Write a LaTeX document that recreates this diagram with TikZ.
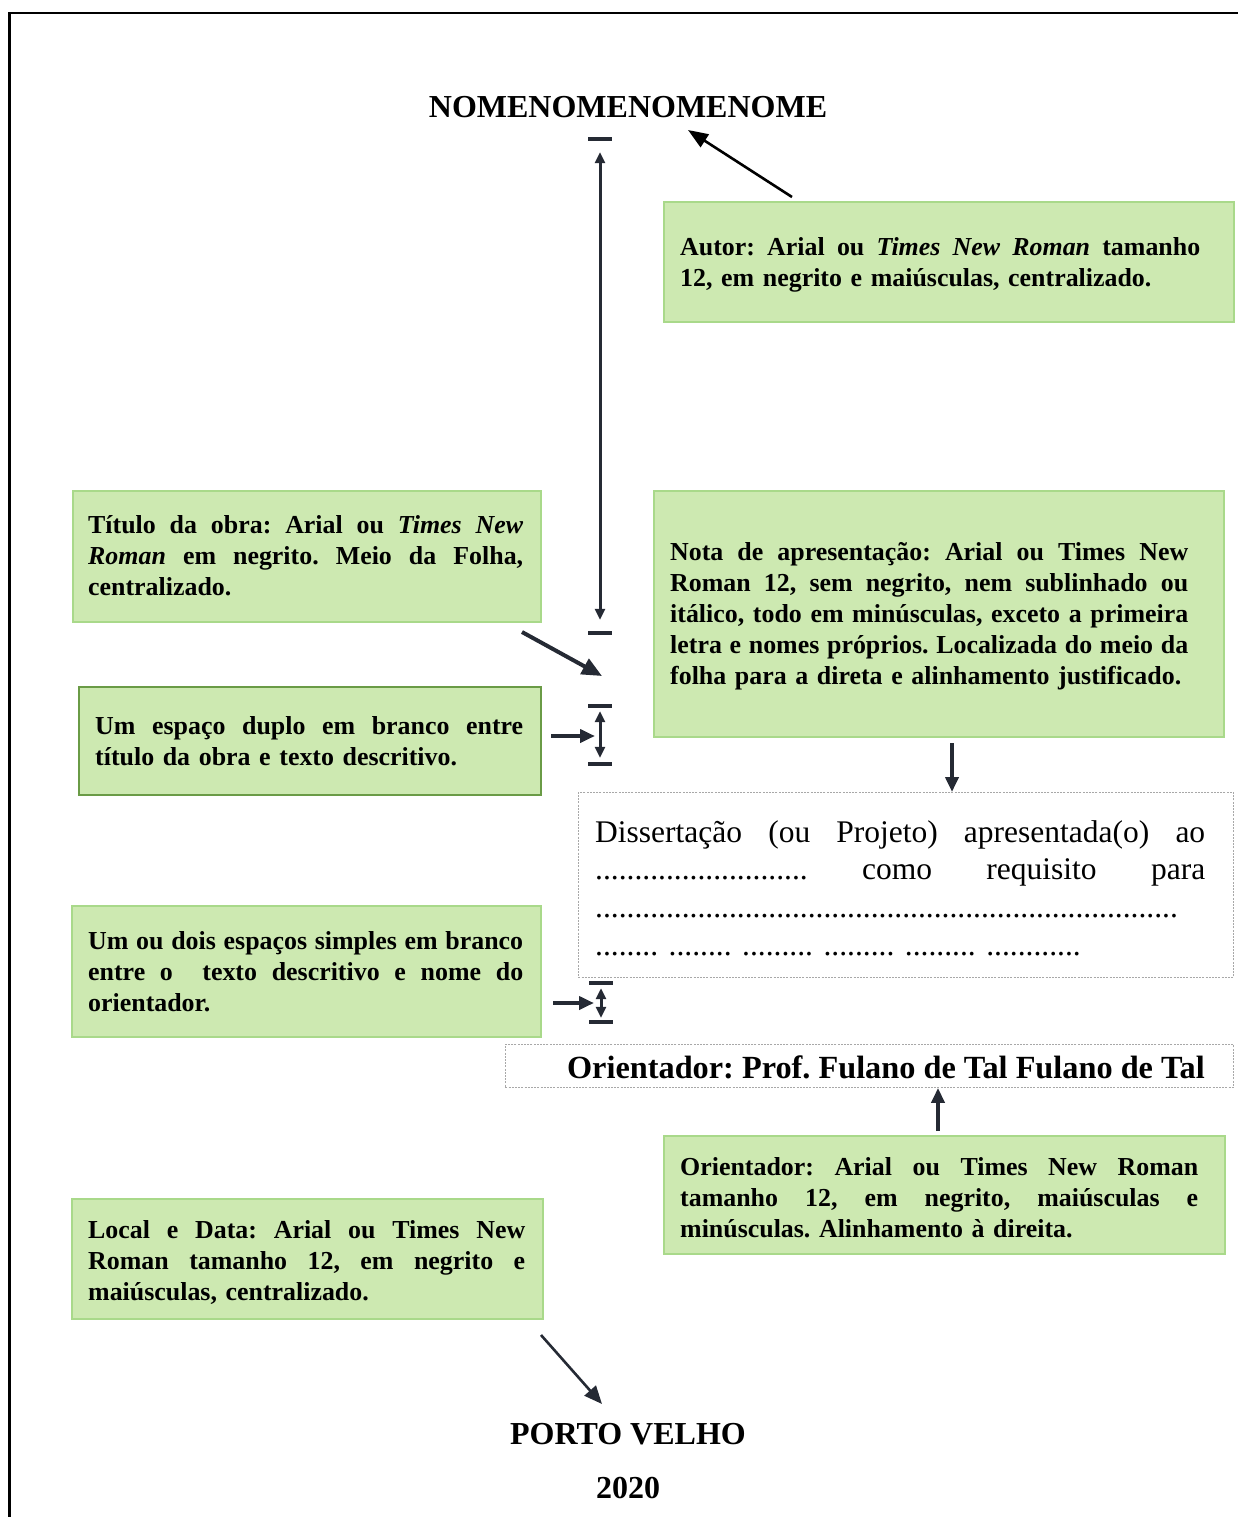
\documentclass[tikz,border=0pt]{standalone}
\usepackage{fontspec}
\setmainfont{Liberation Serif}
\usetikzlibrary{arrows.meta}
\frenchspacing

\definecolor{notefill}{HTML}{CDE9B1}
\definecolor{noteline}{HTML}{A9D98A}
\definecolor{notedark}{HTML}{6A9B46}
\definecolor{ink}{HTML}{252A34}
\definecolor{ghost}{HTML}{A8A8A8}

% one justified line, stretched to the given width
% (the node's ragged setting fixes the word space, so it is freed again here)
\newcommand\jrow[2]{\makebox[#1][s]{\spaceskip=0pt\xspaceskip=0pt\relax#2}}
\newcommand\notefont{\bfseries\fontsize{25.9}{31}\selectfont}
\newcommand\headfont{\bfseries\fontsize{32}{38}\selectfont}

\tikzset{
  note/.style={draw=noteline, fill=notefill, line width=2pt, inner sep=0pt, anchor=north west},
  frameline/.style={draw=ghost, line width=0.9pt, dash pattern=on 2pt off 1.2pt, inner sep=0pt, anchor=north west},
  notetext/.style={anchor=base west, inner sep=0pt, align=left, text width=600pt, font=\notefont},
  bar/.style={fill=ink, minimum width=24pt, minimum height=4pt, inner sep=0pt},
  pointer/.style={ink, line width=4pt, -{Triangle[length=20pt,width=17pt]}},
  shortpointer/.style={ink, line width=4pt, -{Triangle[length=15pt,width=13pt]}},
  span/.style={ink, line width=3pt, {Triangle[length=11pt,width=10pt]}-{Triangle[length=11pt,width=10pt]}},
}

\begin{document}
\begin{tikzpicture}[x=1pt, y=-1pt]
\useasboundingbox (0,0) rectangle (1237,1517);

% page frame
\draw[line width=2.6pt, line cap=rect] (1240,13) -- (9.5,13) -- (9.5,1520);

% headings
\node[anchor=base, inner sep=0pt, font=\headfont] (nome) at (628,118) {NOMENOMENOMENOME};
\node[anchor=base, inner sep=0pt, font=\headfont] (cidade) at (628,1444) {PORTO VELHO};
\node[anchor=base, inner sep=0pt, font=\headfont] (ano) at (628,1498) {2020};

% green notes
\node[note, minimum width=570pt, minimum height=120pt] (autor) at (663,201) {};
\node[notetext] (autortxt) at (680,255)
  {\jrow{520pt}{Autor: Arial ou \textit{Times New Roman} tamanho}\\
   12, em negrito e maiúsculas, centralizado.};

\node[note, minimum width=468pt, minimum height=131pt] (titulo) at (72,490) {};
\node[notetext] (titulotxt) at (88,533)
  {\jrow{435pt}{Título da obra: Arial ou \textit{Times New}}\\
   \jrow{435pt}{\textit{Roman} em negrito. Meio da Folha,}\\
   centralizado.};

\node[note, minimum width=570pt, minimum height=246pt] (nota) at (653,490) {};
\node[notetext] (notatxt) at (670,560)
  {\jrow{518pt}{Nota de apresentação: Arial ou Times New}\\
   \jrow{518pt}{Roman 12, sem negrito, nem sublinhado ou}\\
   \jrow{518pt}{itálico, todo em minúsculas, exceto a primeira}\\
   \jrow{518pt}{letra e nomes próprios. Localizada do meio da}\\
   folha para a direta e alinhamento justificado.};

\node[note, draw=notedark, minimum width=462pt, minimum height=108pt] (espaco) at (78,686) {};
\node[notetext] (espacotxt) at (95,734)
  {\jrow{428pt}{Um espaço duplo em branco entre}\\
   título da obra e texto descritivo.};

\node[note, minimum width=469pt, minimum height=131pt] (simples) at (71,905) {};
\node[notetext] (simplestxt) at (88,949)
  {\jrow{435pt}{Um ou dois espaços simples em branco}\\
   \jrow{435pt}{entre o\ \ texto descritivo e nome do}\\
   orientador.};

\node[note, minimum width=561pt, minimum height=118pt] (orient) at (663,1135) {};
\node[notetext] (orienttxt) at (680,1175)
  {\jrow{518pt}{Orientador: Arial ou Times New Roman}\\
   \jrow{518pt}{tamanho 12, em negrito, maiúsculas e}\\
   minúsculas. Alinhamento à direita.};

\node[note, minimum width=471pt, minimum height=120pt] (local) at (71,1198) {};
\node[notetext] (localtxt) at (88,1238)
  {\jrow{437pt}{Local e Data: Arial ou Times New}\\
   \jrow{437pt}{Roman tamanho 12, em negrito e}\\
   maiúsculas, centralizado.};

% sample text frames
\node[frameline, minimum width=655pt, minimum height=185pt] (diss) at (578,792) {};
\node[anchor=base west, inner sep=0pt, align=left, text width=640pt,
      font=\fontsize{31.5}{37.7}\selectfont] (disstxt) at (595,842)
  {\jrow{610pt}{Dissertação (ou Projeto) apresentada(o) ao}\\
   \jrow{610pt}{........................... como requisito para}\\
   ..........................................................................\\
   ........ ........ ......... ......... ......... ............};

\node[frameline, minimum width=728pt, minimum height=43pt] (orientline) at (505,1044) {};
\node[anchor=base east, inner sep=0pt, font=\bfseries\fontsize{32.3}{38}\selectfont] (orientname) at (1205,1078)
  {Orientador: Prof. Fulano de Tal Fulano de Tal};

% spacing markers
\node[bar] (barA) at (600,139) {};
\node[bar] (barB) at (600,633) {};
\node[bar] (barC) at (600,706) {};
\node[bar] (barD) at (600,764) {};
\node[bar] (barE) at (601,983) {};
\node[bar] (barF) at (601,1022) {};

\draw[span] ([yshift=-11pt]barA.south) -- ([yshift=11pt]barB.north);
\draw[span] ([yshift=-3pt]barC.south) -- ([yshift=4pt]barD.north);
\draw[span] ([yshift=-3pt]barE.south) -- ([yshift=2pt]barF.north);

% pointer ends
\coordinate (autorfoot) at (792,197);
\coordinate (nomefoot) at (688,130);
\coordinate (titulofoot) at (522,632);
\coordinate (titulotip) at (602,676);
\coordinate (espacofoot) at (551,736);
\coordinate (espacotip) at (595,736);
\coordinate (simplesfoot) at (553,1003);
\coordinate (simplestip) at (594,1003);
\coordinate (notafoot) at (952,743);
\coordinate (orientfoot) at (938,1131);
\coordinate (localfoot) at (541,1335);
\coordinate (localtip) at (602,1404);

\draw[black, line width=2.6pt, -{Triangle[length=20pt,width=15pt]}] (autorfoot) -- (nomefoot);
\draw[pointer] (titulofoot) -- (titulotip);
\draw[shortpointer] (espacofoot) -- (espacotip);
\draw[shortpointer] (simplesfoot) -- (simplestip);
\draw[shortpointer] (notafoot) -- (notafoot |- diss.north);
\draw[shortpointer] (orientfoot) -- (orientfoot |- orientline.south);
\draw[ink, line width=2.6pt, -{Triangle[length=18pt,width=15pt]}] (localfoot) -- (localtip);
\end{tikzpicture}
\end{document}
